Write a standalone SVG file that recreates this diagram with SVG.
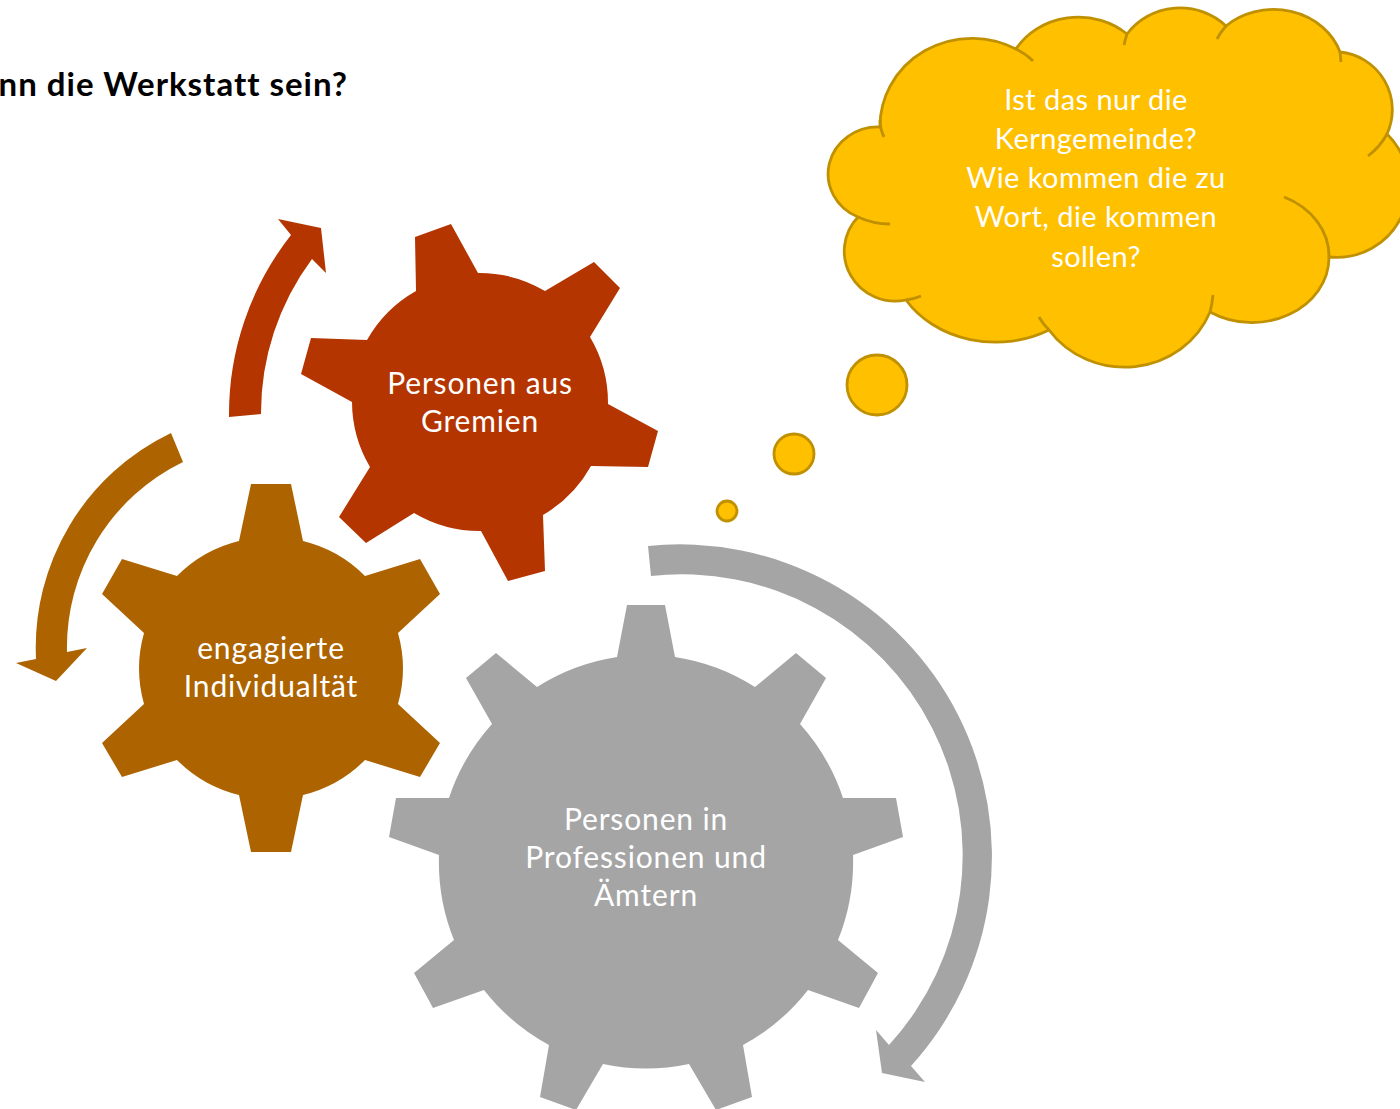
<svg xmlns="http://www.w3.org/2000/svg" width="1400" height="1109" viewBox="0 0 1400 1109">
<style>
text{font-family:"Lato","Open Sans",sans-serif;font-size:30px;letter-spacing:.85px;fill:#fff;text-anchor:middle}
.title{font-size:33px;font-weight:700;letter-spacing:1px;fill:#000;text-anchor:end}
.q{font-size:29px;letter-spacing:.45px}
.c{fill:#FFC000;stroke:#BF9000;stroke-width:2.8}
.s{fill:none;stroke:#BF9000;stroke-width:2.8}
.r{fill:#B43500}.b{fill:#AD6400}.g{fill:#A5A5A5}
</style>
<rect width="1400" height="1109" fill="#fff"/>
<text id="title" class="title" x="348" y="96">nn die Werkstatt sein?</text>
<g id="connectors">
<path class="r" d="M229,417 A290,290 0 0 1 291,235 L278,219 L321,228 L326,273 L312,259 A258,258 0 0 0 261,414 Z"/>
<path class="b" d="M171,433 A238,238 0 0 0 36,659 L16,663 L56,681 L87,648 L67,652 A206,206 0 0 1 183,462 Z"/>
<path class="g" d="M648,546 A312,312 0 0 1 911,1066 L925,1082 L882,1073 L876,1030 L889,1045 A281,281 0 0 0 651,576 Z"/>
</g>
<g id="gear-red">
<path class="r" d="M415,237 L451,224 L478,273 A129,129 0 0 1 545,291 L594,262 L620,288 L590,337 A129,129 0 0 1 608,404 L658,431 L648,467 L591,466 A129,129 0 0 1 543,515 L545,571 L508,581 L481,531 A129,129 0 0 1 414,513 L366,543 L339,517 L370,467 A129,129 0 0 1 352,402 L301,374 L311,338 L367,340 A129,129 0 0 1 416,291 Z"/>
<text x="480" y="394">Personen aus</text>
<text x="480" y="432">Gremien</text>
</g>
<g id="gear-brown">
<path class="b" d="M251,484 L291,484 L303,541 A131,131 0 0 1 365,576 L420,559 L440,594 L398,633 A131,131 0 0 1 398,704 L440,743 L420,777 L365,760 A131,131 0 0 1 303,795 L291,852 L251,852 L239,795 A131,131 0 0 1 177,760 L122,777 L102,743 L144,704 A131,131 0 0 1 144,633 L102,594 L122,559 L177,576 A131,131 0 0 1 239,541 Z"/>
<text x="271" y="659">engagierte</text>
<text x="271" y="697">Individualtät</text>
</g>
<g id="gear-gray">
<path class="g" d="M627,605 L665,605 L675,657 A208,208 0 0 1 755,687 L796,653 L826,678 L800,724 A208,208 0 0 1 843,798 L896,798 L903,837 L853,855 A208,208 0 0 1 838,940 L878,973 L859,1008 L808,990 A208,208 0 0 1 743,1045 L752,1097 L716,1110 L689,1064 A208,208 0 0 1 603,1064 L576,1110 L540,1097 L549,1045 A208,208 0 0 1 484,990 L433,1008 L414,973 L454,940 A208,208 0 0 1 439,855 L389,837 L396,798 L449,798 A208,208 0 0 1 492,724 L466,678 L496,653 L537,687 A208,208 0 0 1 617,657 Z"/>
<text x="646" y="830">Personen in</text>
<text x="646" y="868">Professionen und</text>
<text x="646" y="906">Ämtern</text>
</g>
<g id="cloud">
<path class="c" d="M880,127 A92,88 0 0 1 1016,49 A72,64 0 0 1 1127,34 A65,62 0 0 1 1226,26 A70,62 0 0 1 1340,52 A58,58 0 0 1 1387,134 A72,72 0 0 1 1329,257 A77,65 0 0 1 1210,312 A92,87 0 0 1 1049,330 A105,88 0 0 1 906,300 A51,50 0 0 1 858,217 A50,47 0 0 1 880,127 Z"/>
<path class="s" d="M880,120 Q880,129 884,137 M1016,49 Q1026,54 1033,61 M1127,34 Q1125,40 1124,45 M1226,26 Q1220,33 1217,39 M1340,52 L1341,62 M1387,134 Q1380,147 1368,156 M1284,197 A77,65 0 0 1 1329,257 M1213,295 Q1212,305 1210,312 M1049,330 Q1043,324 1039,317 M906,300 Q914,299 921,296 M858,217 Q873,224 890,224"/>
<circle class="c" cx="877" cy="385" r="30"/>
<circle class="c" cx="794" cy="454" r="20"/>
<circle class="c" cx="727" cy="511" r="10"/>
<text class="q" x="1096" y="110">Ist das nur die</text>
<text class="q" x="1096" y="149">Kerngemeinde?</text>
<text class="q" x="1096" y="188">Wie kommen die zu</text>
<text class="q" x="1096" y="227">Wort, die kommen</text>
<text class="q" x="1096" y="267">sollen?</text>
</g>
</svg>
